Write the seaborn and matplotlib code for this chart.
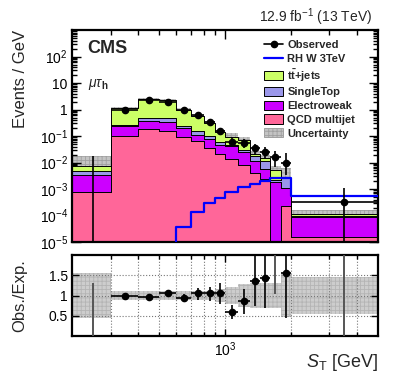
import numpy as np
import pandas as pd
import seaborn as sns
import matplotlib.pyplot as plt
from matplotlib.patches import Patch
from matplotlib.lines import Line2D
from matplotlib.ticker import FixedLocator, NullFormatter, FuncFormatter, LogLocator

# bin edges in S_T [GeV]
edges = [200, 300, 400, 500, 600, 700, 800, 900, 1000, 1150, 1300, 1450, 1600, 1800, 2000, 5000]

# backgrounds, events / GeV
qcd   = [8.0e-4, 0.10, 0.19, 0.15, 0.089, 0.063, 0.035, 0.021, 0.014, 0.0083, 0.0040, 0.0024, 0.0, 2.2e-4, 1.5e-5]
ewk   = [2.7e-3, 0.13, 0.17, 0.19, 0.11, 0.047, 0.043, 0.026, 0.027, 0.0167, 0.0070, 0.0032, 0.0019, 8.8e-4, 7.5e-5]
stop  = [1.4e-3, 0.04, 0.13, 0.12, 0.05, 0.04, 0.020, 0.010, 0.006, 0.0050, 0.0060, 0.0054, 2.0e-4, 1.5e-3, 5.0e-6]
ttbar = [2.6e-3, 0.83, 1.91, 1.74, 0.75, 0.41, 0.22, 0.083, 0.046, 0.039, 0.0040, 0.0038, 0.0033, 1.0e-5, 1.5e-5]
signal = [0, 0, 0, 0, 3.8e-5, 1.3e-4, 2.9e-4, 4.5e-4, 8.0e-4, 1.2e-3, 1.5e-3, 2.0e-3, 2.5e-3, 2.6e-3, 5.6e-4]

# observed data, events / GeV
obs    = [0.0, 1.0, 2.3, 2.0, 1.0, 0.60, 0.34, 0.15, 0.062, 0.055, 0.035, 0.026, 0.0165, 0.0099, 3.3e-4]
obs_lo = [0.0, 0.9, 2.15, 1.86, 0.9, 0.52, 0.28, 0.11, 0.042, 0.036, 0.019, 0.014, 0.0068, 0.0035, 0.0]
obs_hi = [0.018, 1.1, 2.45, 2.14, 1.1, 0.68, 0.40, 0.19, 0.090, 0.080, 0.050, 0.039, 0.028, 0.022, 1.1e-3]

# uncertainty band: upward extent above the stack (main), +-relative (ratio)
band_up = [1.4, 0.10, 0.10, 0.10, 0.10, 0.12, 0.15, 0.20, 0.35, 0.35, 0.35, 0.35, 0.35, 1.4, 0.5]
unc = [0.55, 0.11, 0.10, 0.10, 0.10, 0.10, 0.12, 0.15, 0.22, 0.28, 0.30, 0.30, 0.30, 0.52, 0.45]

# Obs./Exp.
ratio    = [0.0, 0.98, 0.96, 1.07, 0.95, 1.06, 1.07, 1.06, 0.59, 0.87, 1.36, 1.42, 3.2, 1.55, 3.0]
ratio_lo = [0.0, 0.90, 0.90, 1.00, 0.87, 0.89, 0.87, 0.80, 0.43, 0.55, 0.75, 0.70, 1.04, 0.45, 0.0]
ratio_hi = [1.32, 1.06, 1.02, 1.14, 1.03, 1.19, 1.22, 1.32, 0.76, 1.16, 2.1, 2.2, 5.0, 2.6, 8.0]

procs = ['tt', 'st', 'ewk', 'qcd']
labels = {'tt': r'$\mathbf{t\bar{t}}$+jets', 'st': 'SingleTop', 'ewk': 'Electroweak', 'qcd': 'QCD multijet'}
colors = {'tt': '#ccff66', 'st': '#9b97ea', 'ewk': '#cc00ff', 'qcd': '#ff6699'}

edges = np.array(edges, dtype=float)
centers = 0.5 * (edges[:-1] + edges[1:])
nb = len(centers)

df = pd.DataFrame({
    'st': np.tile(centers, 4),
    'w': np.concatenate([ttbar, stop, ewk, qcd]),
    'process': np.repeat(procs, nb),
})

sns.set_style('ticks')
plt.rcParams['font.family'] = ['Liberation Sans', 'DejaVu Sans']
plt.rcParams['mathtext.fontset'] = 'custom'
plt.rcParams['mathtext.rm'] = 'Liberation Sans'
plt.rcParams['mathtext.it'] = 'Liberation Sans:italic'
plt.rcParams['mathtext.bf'] = 'Liberation Sans:bold'
plt.rcParams['hatch.linewidth'] = 0.6

fig = plt.figure(figsize=(3.99, 3.83), dpi=100)
ax = fig.add_axes([0.1805, 0.3681, 0.767, 0.5535])
rax = fig.add_axes([0.1805, 0.1227, 0.767, 0.2115])

# uncertainty band, drawn behind the stack
total = np.array(ttbar) + np.array(stop) + np.array(ewk) + np.array(qcd)
band_hi = total * (1 + np.array(band_up))
ax.fill_between(edges, 1e-6, np.append(band_hi, band_hi[-1]), step='post',
                facecolor='#c4c4c4', edgecolor='#a0a0a0', hatch='++++', lw=0, zorder=0.5)

# stacked backgrounds
sns.histplot(data=df, x='st', weights='w', hue='process', hue_order=procs, palette=colors,
             bins=list(edges), multiple='stack', element='step', alpha=1, edgecolor='black',
             linewidth=0.7, legend=False, ax=ax)

# signal
sns.histplot(x=centers, weights=signal, bins=list(edges), element='step', fill=False, color='#0000ff',
             linewidth=1.6, ax=ax, zorder=4)

# data
obs = np.array(obs)
xerr = [centers - edges[:-1], edges[1:] - centers]
ax.errorbar(centers, obs, yerr=[obs - np.array(obs_lo), np.array(obs_hi) - obs], xerr=xerr,
            fmt='o', color='black', ms=4.5, lw=1.2, capsize=0, zorder=5)

ax.set_xscale('log')
ax.set_yscale('log')
ax.set_xlim(200, 5000)
ax.set_ylim(1e-5, 1e3)
ax.set_xlabel('')
ax.set_ylabel('Events / GeV', loc='top', fontsize=12)
ax.yaxis.set_label_coords(-0.145, 1.0)

ax.yaxis.set_major_locator(FixedLocator([1e-5, 1e-4, 1e-3, 1e-2, 1e-1, 1, 10, 100]))
ax.yaxis.set_minor_locator(LogLocator(base=10, subs=np.arange(2, 10), numticks=30))
ax.yaxis.set_minor_formatter(NullFormatter())


def log_label(v, pos):
    e = int(round(np.log10(v)))
    if e == 0:
        return '1'
    if e == 1:
        return '10'
    return r'$10^{%d}$' % e


ax.yaxis.set_major_formatter(FuncFormatter(log_label))

xmajor = [1000]
xminor = [300, 400, 500, 600, 700, 800, 900, 2000, 3000, 4000]
for a in (ax, rax):
    a.xaxis.set_major_locator(FixedLocator(xmajor))
    a.xaxis.set_minor_locator(FixedLocator(xminor))
    a.xaxis.set_minor_formatter(NullFormatter())
    a.tick_params(which='both', direction='in', top=True, right=True, labelsize=10, width=1,
                  pad=3, color='black', labelcolor='black')
    for s in a.spines.values():
        s.set_linewidth(1.6)
        s.set_color('black')
ax.tick_params(axis='x', labelbottom=False)
ax.tick_params(which='major', length=6.5)
ax.tick_params(which='minor', length=3.5)

handles = [
    Line2D([], [], color='black', marker='o', ms=4.5, lw=1.2),
    Line2D([], [], color='#0000ff', lw=1.6),
] + [Patch(facecolor=colors[p], edgecolor='black', lw=0.7) for p in procs] + [
    Patch(facecolor='#c4c4c4', edgecolor='#a0a0a0', hatch='++++', lw=0.7),
]
names = ['Observed', 'RH W 3TeV'] + [labels[p] for p in procs] + ['Uncertainty']
ax.legend(handles, names, loc='upper left', bbox_to_anchor=(0.613, 0.976), frameon=False,
          prop={'weight': 'bold', 'size': 8}, handlelength=1.7, handleheight=0.9,
          labelspacing=0.3, handletextpad=0.4, borderaxespad=0)

ax.text(0.049, 0.913, 'CMS', transform=ax.transAxes, fontsize=13, fontweight='bold', va='center')
ax.text(0.052, 0.745, r'$\mu\tau_{\mathbf{h}}$', transform=ax.transAxes, fontsize=10, va='center')
fig.text(372 / 399, 1 - 17 / 383, r'12.9 fb$^{-1}$ (13 TeV)', ha='right', va='center', fontsize=10)

# ratio panel
unc = np.array(unc)
ratio = np.array(ratio)
ratio_lo = np.array(ratio_lo)
ratio_hi = np.array(ratio_hi)
rax.fill_between(edges, np.append(1 - unc, 1 - unc[-1]), np.append(1 + unc, 1 + unc[-1]), step='post',
                 facecolor='#cdcdcd', edgecolor='#b4b4b4', hatch='++++', lw=0, zorder=1)
inside = (ratio > 0) & (ratio < 2)
rax.errorbar(centers[inside], ratio[inside],
             yerr=[ratio[inside] - ratio_lo[inside], ratio_hi[inside] - ratio[inside]],
             xerr=[xerr[0][inside], xerr[1][inside]],
             fmt='o', color='black', ms=4.5, lw=1.2, capsize=0, zorder=5)
rax.vlines(centers[~inside], ratio_lo[~inside], ratio_hi[~inside], color='#555555', lw=1.4, zorder=4)

rax.set_xscale('log')
rax.set_xlim(200, 5000)
rax.set_ylim(0, 2)
rax.xaxis.set_major_locator(FixedLocator(xmajor))
rax.xaxis.set_minor_locator(FixedLocator(xminor))
rax.xaxis.set_minor_formatter(NullFormatter())
rax.xaxis.set_major_formatter(FuncFormatter(lambda v, p: r'$10^{3}$'))
rax.yaxis.set_major_locator(FixedLocator([0.5, 1, 1.5]))
rax.yaxis.set_major_formatter(FuncFormatter(lambda v, p: '%g' % v))
rax.tick_params(which='major', length=5)
rax.tick_params(which='minor', length=3)
rax.grid(axis='x', which='both', ls=':', color='#777777', lw=0.8)
rax.grid(axis='y', which='major', ls=':', color='#777777', lw=0.8)
rax.set_axisbelow(False)
rax.set_ylabel('Obs./Exp.', fontsize=12)
rax.yaxis.set_label_coords(-0.145, 0.5)
rax.set_xlabel(r'$S_{\mathrm{T}}$ [GeV]', loc='right', fontsize=13)
rax.xaxis.set_label_coords(1.0, -0.2)

fig.savefig('out.png', dpi=100)
